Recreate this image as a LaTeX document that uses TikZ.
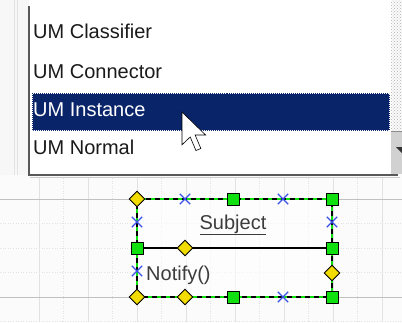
\documentclass[tikz,border=0pt]{standalone}
\usepackage{fontspec}
\setmainfont{Liberation Sans}
\usetikzlibrary{shapes.geometric,shapes.misc,patterns}
\definecolor{hilite}{HTML}{0A246A}
\definecolor{hgreen}{HTML}{10E010}
\definecolor{hyellow}{HTML}{F2DC00}
\definecolor{hblue}{HTML}{3A50E8}
\definecolor{gridc}{HTML}{E2E2E2}
\definecolor{txt}{HTML}{1A1A1A}
\tikzset{
  gsq/.style={rectangle,draw=black,fill=hgreen,line width=0.9pt,minimum size=12pt,inner sep=0pt},
  ydia/.style={diamond,draw=black,fill=hyellow,line width=0.9pt,minimum size=16pt,inner sep=0pt},
  bx/.style={cross out,draw=hblue,line width=1.3pt,minimum size=9pt,inner sep=0pt},
  item/.style={font=\fontsize{20}{22}\selectfont,anchor=base west,inner sep=0pt,text=txt},
  boxtxt/.style={font=\fontsize{20}{22}\selectfont,anchor=base,inner sep=0pt,text=txt!85!white},
}
\begin{document}
\begin{tikzpicture}[x=1pt,y=-1pt]
\useasboundingbox (0,0) rectangle (402,322);
% canvas background
\fill[white!97!gray] (0,0) rectangle (402,322);
% grid (canvas)
\foreach \gx in {39,88,137,186,235,284,333,382}
  \draw[gridc,line width=0.6pt] (\gx,178) -- (\gx,322);
\foreach \gx in {63.5,112.5,161.5,210.5,259.5,308.5,357.5}
  \draw[gridc,line width=0.5pt,dotted] (\gx,178) -- (\gx,322);
\foreach \gy in {199,297}
  \draw[gridc!85!black,line width=0.6pt] (0,\gy) -- (402,\gy);
\foreach \gy in {223.5,248,272.5,321}
  \draw[gridc,line width=0.6pt,dotted] (0,\gy) -- (402,\gy);
% left strip
\fill[white!94!gray] (0,0) rectangle (29,175);
\draw[gridc] (14,0) -- (14,175);
\draw[gridc] (17,0) -- (17,175);
% dropdown panel
\fill[white] (29,0) rectangle (391,175);
\draw[black!65,line width=1.2pt] (29,6) -- (29,175) -- (398,175);
\draw[black!20,line width=1pt] (30,177) -- (400,177);
% scrollbar
\fill[pattern=crosshatch dots,pattern color=black!30] (391,0) rectangle (402,131);
\fill[black!18] (391,131) rectangle (402,174);
\draw[black!45] (391,131) -- (402,131);
\fill[black!80] (396,147) -- (402,147) -- (402,153) -- cycle;
% highlight
\fill[hilite] (32,93) rectangle (390,131);
\draw[white,line width=0.8pt,dash pattern=on 1pt off 1pt] (32.5,93.5) rectangle (389.5,130.5);
% items
\node[item] (i1) at (33,38) {UM Classifier};
\node[item] (i2) at (33,78) {UM Connector};
\node[item,text=white] (i3) at (33,116) {UM Instance};
\node[item] (i4) at (33,154) {UM Normal};
% box
\coordinate (tl) at (137,199);
\coordinate (tr) at (332,199);
\coordinate (bl) at (137,297);
\coordinate (br) at (332,297);
\coordinate (ml) at (137,248);
\coordinate (mr) at (332,248);
\fill[white,opacity=0.6] (tl) rectangle (br);
\draw[hgreen,line width=2pt] (tl) -- (tr) -- (br) -- (bl) -- cycle;
\draw[black,line width=1.1pt,dash pattern=on 5pt off 4pt] (tl) -- (tr) -- (br) -- (bl) -- cycle;
\draw[black,line width=1.4pt] (ml) -- (mr);
\node[boxtxt] (subj) at (233,229) {\underline{Subject}};
\node[boxtxt,anchor=base west] (notify) at (146,280) {Notify()};
% handles
\node[ydia] (h1) at (tl) {};
\node[bx] (h2) at (185,199) {};
\node[gsq] (h3) at (233,199) {};
\node[bx] (h4) at (283,199) {};
\node[gsq] (h5) at (tr) {};
\node[bx] (h6) at (137,222) {};
\node[gsq] (h7) at (ml) {};
\node[bx] (h8) at (137,271) {};
\node[ydia] (h9) at (bl) {};
\node[ydia] (h10) at (185,248) {};
\node[gsq] (h11) at (mr) {};
\node[bx] (h12) at (332,222) {};
\node[ydia] (h13) at (332,273) {};
\node[ydia] (h14) at (185,297) {};
\node[gsq] (h15) at (233,297) {};
\node[bx] (h16) at (283,297) {};
\node[gsq] (h17) at (br) {};
% cursor
\begin{scope}[shift={(182,112)},scale=2.05]
\draw[black,fill=white,line width=0.6pt,line join=miter]
  (0,0) -- (0,16) -- (4,12.2) -- (6.8,18.8) -- (9.2,17.8) -- (6.4,11.2) -- (11.5,11.2) -- cycle;
\end{scope}
\end{tikzpicture}
\end{document}
